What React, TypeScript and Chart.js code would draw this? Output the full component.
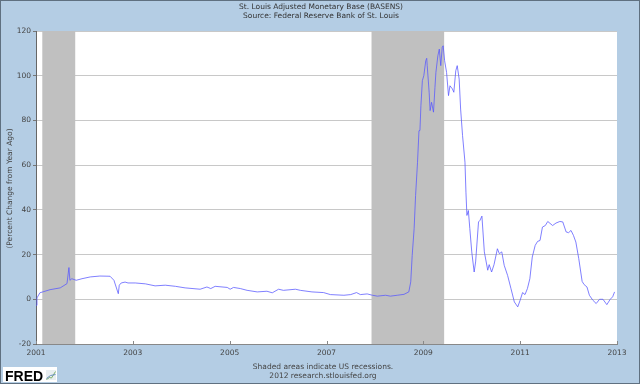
import React, { useEffect, useRef } from "react";
import { Chart, registerables } from "chart.js";

Chart.register(...registerables);

const titleLines = ["St. Louis Adjusted Monetary Base (BASENS)", "Source: Federal Reserve Bank of St. Louis"];
const yAxisTitle = "(Percent Change from Year Ago)";
const footerLines = ["Shaded areas indicate US recessions.", "2012 research.stlouisfed.org"];

const yTicks = [-20, 0, 20, 40, 60, 80, 100, 120];
const xTicks = [2001, 2003, 2005, 2007, 2009, 2011, 2013];

const recessionStarts = [2001.13, 2007.93];
const recessionEnds = [2001.81, 2009.43];

const dates = [
  2001.00, 2001.02, 2001.08, 2001.29, 2001.50, 2001.64, 2001.68, 2001.70, 2001.74, 2001.83,
  2001.95, 2002.12, 2002.32, 2002.53, 2002.61, 2002.70, 2002.72, 2002.76, 2002.84, 2002.90,
  2003.05, 2003.26, 2003.46, 2003.67, 2003.88, 2004.08, 2004.39, 2004.53, 2004.61, 2004.70,
  2004.95, 2005.01, 2005.08, 2005.22, 2005.36, 2005.57, 2005.77, 2005.88, 2006.01, 2006.11,
  2006.36, 2006.46, 2006.70, 2006.94, 2007.08, 2007.36, 2007.50, 2007.62, 2007.70, 2007.84,
  2007.95, 2008.05, 2008.22, 2008.32, 2008.46, 2008.60, 2008.70, 2008.74, 2008.77, 2008.81,
  2008.84, 2008.88, 2008.91, 2008.93, 2008.95, 2008.98, 2009.01, 2009.05, 2009.07, 2009.08,
  2009.12, 2009.14, 2009.17, 2009.21, 2009.24, 2009.26, 2009.30, 2009.33, 2009.36, 2009.39,
  2009.41, 2009.44, 2009.48, 2009.52, 2009.55, 2009.60, 2009.63, 2009.67, 2009.70, 2009.74,
  2009.77, 2009.81, 2009.86, 2009.88, 2009.90, 2009.93, 2009.96, 2010.00, 2010.05, 2010.08,
  2010.14, 2010.17, 2010.21, 2010.26, 2010.33, 2010.36, 2010.41, 2010.46, 2010.53, 2010.57,
  2010.62, 2010.67, 2010.74, 2010.81, 2010.88, 2010.95, 2011.00, 2011.05, 2011.10, 2011.15,
  2011.20, 2011.25, 2011.31, 2011.36, 2011.41, 2011.46, 2011.52, 2011.57, 2011.67, 2011.74,
  2011.82, 2011.88, 2011.95, 2012.00, 2012.05, 2012.10, 2012.15, 2012.21, 2012.28, 2012.32,
  2012.38, 2012.43, 2012.50, 2012.57, 2012.64, 2012.71, 2012.79, 2012.86, 2012.91, 2012.95,
];

const values = [
  -2.7, 0.6, 2.9, 4.3, 5.1, 7.0, 14.2, 8.5, 9.2, 8.5,
  9.2, 10.0, 10.4, 10.3, 8.5, 2.5, 6.3, 7.3, 7.7, 7.3,
  7.3, 6.9, 6.0, 6.3, 5.8, 5.1, 4.5, 5.5, 4.8, 5.8,
  5.3, 4.5, 5.3, 4.8, 4.0, 3.3, 3.6, 2.9, 4.5, 4.0,
  4.5, 4.0, 3.3, 3.0, 2.1, 1.8, 2.1, 3.0, 2.1, 2.4,
  1.8, 1.4, 1.8, 1.4, 1.8, 2.2, 3.3, 7.8, 19.6, 31.6,
  46.4, 61.3, 75.4, 75.5, 86.6, 97.8, 100.0, 106.7, 107.8, 104.5,
  92.6, 84.4, 88.1, 83.7, 94.8, 101.5, 108.9, 111.9, 104.5, 112.7,
  113.4, 106.7, 101.5, 91.1, 95.5, 94.1, 92.6, 102.2, 104.5, 98.5,
  85.1, 73.2, 61.3, 47.9, 37.5, 39.7, 31.6, 21.2, 12.2, 16.7,
  34.6, 35.3, 37.2, 21.2, 13.0, 15.5, 12.2, 15.5, 22.6, 20.4,
  21.2, 15.2, 10.7, 4.8, -1.2, -3.4, -0.4, 3.0, 2.1, 4.8,
  9.2, 18.9, 24.1, 25.9, 26.3, 32.3, 33.0, 34.8, 33.0, 34.1,
  34.8, 34.6, 30.1, 29.8, 30.8, 28.6, 25.6, 18.2, 8.0, 6.6,
  5.5, 1.8, -0.4, -1.9, 0.0, 0.0, -2.4, 0.0, 1.1, 3.3,
];

const FONT = '"DejaVu Sans", Verdana, sans-serif';
const BG = "#b4cde4";

const framePlugin = {
  id: "fredFrame",
  beforeDraw(chart: any) {
    const { ctx, width, height, chartArea: a } = chart;
    ctx.save();
    ctx.fillStyle = BG;
    ctx.fillRect(0, 0, width, height);
    ctx.strokeStyle = "#5f7080";
    ctx.lineWidth = 1;
    ctx.strokeRect(0.5, 0.5, width - 1, height - 1);
    ctx.fillStyle = "#ffffff";
    ctx.fillRect(a.left, a.top, a.right - a.left, a.bottom - a.top);
    ctx.restore();
  },
  beforeDatasetsDraw(chart: any) {
    const { ctx, chartArea: a } = chart;
    const xs = chart.scales.x;
    ctx.save();
    ctx.fillStyle = "#c0c0c0";
    recessionStarts.forEach((s, i) => {
      const x0 = xs.getPixelForValue(s);
      const x1 = xs.getPixelForValue(recessionEnds[i]);
      ctx.fillRect(x0, a.top, x1 - x0, a.bottom - a.top);
    });
    ctx.restore();
  },
  afterDraw(chart: any) {
    const { ctx, chartArea: a } = chart;
    const xs = chart.scales.x;
    ctx.save();
    // inner x tick marks
    ctx.strokeStyle = "#888888";
    ctx.lineWidth = 1;
    xTicks.forEach((t) => {
      const px = Math.round(xs.getPixelForValue(t)) + 0.5;
      ctx.beginPath();
      ctx.moveTo(px, a.bottom);
      ctx.lineTo(px, a.bottom - 3);
      ctx.stroke();
    });
    // title
    ctx.fillStyle = "#333333";
    ctx.font = `7.5px ${FONT}`;
    ctx.textAlign = "center";
    ctx.textBaseline = "middle";
    ctx.fillText(titleLines[0], 321, 7);
    ctx.fillText(titleLines[1], 321, 16);
    // footer
    ctx.fillStyle = "#444444";
    ctx.fillText(footerLines[0], 323, 367);
    ctx.fillText(footerLines[1], 323, 376.5);
    // y title
    ctx.save();
    ctx.translate(10, (a.top + a.bottom) / 2 + 1);
    ctx.rotate(-Math.PI / 2);
    ctx.fillText(yAxisTitle, 0, 0);
    ctx.restore();
    // FRED logo
    ctx.fillStyle = "#ffffff";
    ctx.fillRect(3, 367, 54, 15);
    ctx.fillStyle = "#000000";
    ctx.font = `bold 14px "Liberation Sans", Arial, sans-serif`;
    ctx.textAlign = "left";
    ctx.textBaseline = "alphabetic";
    ctx.fillText("FRED", 5, 381);
    ctx.fillStyle = "#e8eef0";
    ctx.fillRect(46, 370, 10, 10);
    ctx.strokeStyle = "#7fb06a";
    ctx.beginPath();
    ctx.moveTo(46.5, 379.5);
    ctx.lineTo(49.5, 377.5);
    ctx.lineTo(51.5, 378);
    ctx.lineTo(55.5, 371.5);
    ctx.stroke();
    ctx.strokeStyle = "#6a8fc0";
    ctx.beginPath();
    ctx.moveTo(46.5, 378.5);
    ctx.lineTo(50.5, 375.5);
    ctx.lineTo(55.5, 374.5);
    ctx.stroke();
    ctx.restore();
  },
};

export default function App() {
  const ref = useRef<HTMLCanvasElement | null>(null);
  useEffect(() => {
    document.body.style.margin = "0";
    const canvas = ref.current;
    if (!canvas) return;
    const chart = new Chart(canvas, {
      type: "line",
      data: {
        datasets: [
          {
            data: dates.map((d, i) => ({ x: d, y: values[i] })),
            borderColor: "rgba(85,85,255,0.75)",
            borderWidth: 1,
            pointRadius: 0,
            tension: 0,
            fill: false,
          },
        ],
      },
      options: {
        responsive: false,
        animation: false,
        events: [],
        layout: { padding: { top: 31, right: 23, left: 0, bottom: 0 } },
        plugins: { legend: { display: false }, tooltip: { enabled: false }, title: { display: false } },
        scales: {
          x: {
            type: "linear",
            min: 2001,
            max: 2013,
            afterBuildTicks: (s: any) => {
              s.ticks = xTicks.map((v) => ({ value: v }));
            },
            ticks: {
              callback: (v: any) => String(v),
              color: "#444444",
              font: { family: FONT, size: 7.5 },
              padding: 5,
              maxRotation: 0,
              autoSkip: false,
            },
            grid: { display: false, drawTicks: false },
            border: { display: true, color: "#888888" },
            afterFit: (s: any) => {
              s.height = 40;
            },
          },
          y: {
            min: -20,
            max: 120,
            afterBuildTicks: (s: any) => {
              s.ticks = yTicks.map((v) => ({ value: v }));
            },
            ticks: {
              color: "#444444",
              font: { family: FONT, size: 7.5 },
              padding: 2,
            },
            grid: { color: "#c8c8c8", tickLength: 3, tickColor: "#777777" },
            border: { display: true, color: "#666666" },
            afterFit: (s: any) => {
              s.width = 36;
            },
          },
        },
      },
      plugins: [framePlugin],
    });
    return () => chart.destroy();
  }, []);
  return (
    <div style={{ position: "absolute", left: 0, top: 0, width: 640, height: 384 }}>
      <canvas ref={ref} width={640} height={384} style={{ display: "block" }} />
    </div>
  );
}
